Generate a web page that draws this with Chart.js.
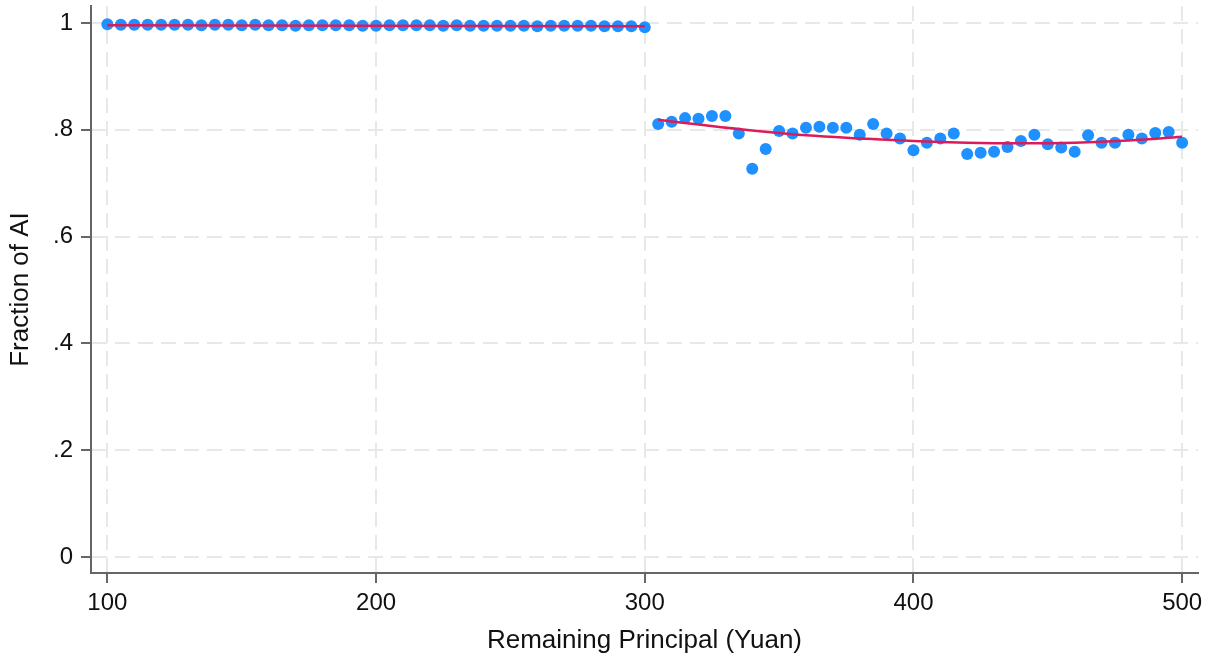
<!DOCTYPE html>
<html>
<head>
<meta charset="utf-8">
<script src="https://cdn.jsdelivr.net/npm/chart.js@4/dist/chart.umd.min.js"></script>
<style>
  html, body { margin: 0; padding: 0; background: #fff; }
  #caja { width: 1214px; height: 657px; position: relative; }
</style>
</head>
<body>
<div id="caja"><canvas id="grafico"></canvas></div>
<script>
// Datos
const xIzq = [100, 105, 110, 115, 120, 125, 130, 135, 140, 145, 150, 155, 160, 165, 170, 175, 180, 185, 190, 195,
              200, 205, 210, 215, 220, 225, 230, 235, 240, 245, 250, 255, 260, 265, 270, 275, 280, 285, 290, 295, 300];
const yIzq = [.998, .997, .997, .997, .997, .997, .997, .996, .997, .997, .996, .997, .996, .996, .995, .996, .996, .996, .996, .995,
              .995, .996, .996, .996, .996, .995, .996, .995, .995, .995, .995, .995, .994, .995, .995, .995, .995, .994, .994, .994, .992];

const xDer = [305, 310, 315, 320, 325, 330, 335, 340, 345, 350, 355, 360, 365, 370, 375, 380, 385, 390, 395, 400,
              405, 410, 415, 420, 425, 430, 435, 440, 445, 450, 455, 460, 465, 470, 475, 480, 485, 490, 495, 500];
const yDer = [.811, .815, .822, .821, .826, .826, .793, .727, .764, .798, .793, .804, .806, .804, .804, .791, .811, .793, .784, .762,
              .776, .784, .793, .755, .757, .759, .768, .779, .791, .773, .767, .759, .790, .776, .776, .791, .784, .794, .796, .776];

// Ajuste (línea roja)
const xAjusteIzq = [100, 300];
const yAjusteIzq = [.996, .994];
const xAjusteDer = [305, 320, 340, 360, 380, 400, 420, 440, 460, 480, 500];
const yAjusteDer = [.819, .810, .799, .790, .784, .779, .776, .775, .776, .780, .787];

const xTicks = [100, 200, 300, 400, 500];
const yTicks = [0, .2, .4, .6, .8, 1];
const yEtiquetas = ['0', '.2', '.4', '.6', '.8', '1'];

const azul = 'rgb(30, 144, 255)';
const rojo = 'rgb(220, 28, 88)';
const gris = '#666666';
const rejilla = '#e8e8e8';
const fuente = "'Liberation Sans', Arial, sans-serif";

const pares = (xs, ys) => xs.map((x, i) => ({ x: x, y: ys[i] }));

new Chart(document.getElementById('grafico').getContext('2d'), {
    type: 'scatter',
    data: {
        datasets: [
            { type: 'line', data: pares(xAjusteIzq, yAjusteIzq), borderColor: rojo, borderWidth: 2.5, pointRadius: 0, fill: false, order: 0 },
            { type: 'line', data: pares(xAjusteDer, yAjusteDer), borderColor: rojo, borderWidth: 2.5, pointRadius: 0, fill: false, tension: 0.4, order: 0 },
            { data: pares(xIzq, yIzq), backgroundColor: azul, borderWidth: 0, pointRadius: 6, order: 1 },
            { data: pares(xDer, yDer), backgroundColor: azul, borderWidth: 0, pointRadius: 6, order: 1 }
        ]
    },
    options: {
        responsive: true,
        maintainAspectRatio: false,
        animation: false,
        layout: { padding: { top: 5, right: 16, bottom: 0, left: 0 } },
        plugins: { legend: { display: false }, tooltip: { enabled: false } },
        scales: {
            x: {
                type: 'linear',
                min: 93.9,
                max: 505.9,
                afterBuildTicks: s => { s.ticks = xTicks.map(v => ({ value: v })); },
                afterFit: s => { s.height = 84; s.paddingLeft = 0; s.paddingRight = 0; },
                ticks: { color: '#111', font: { family: fuente, size: 24 }, padding: 6, maxRotation: 0, includeBounds: false },
                grid: { color: rejilla, lineWidth: 2, tickColor: gris, tickLength: 10, tickWidth: 2 },
                border: { display: true, color: gris, width: 2, dash: [15, 8] },
                title: { display: true, text: 'Remaining Principal (Yuan)', color: '#111', font: { family: fuente, size: 26 }, padding: { top: 0, bottom: 1 } }
            },
            y: {
                min: -0.03,
                max: 1.032,
                afterBuildTicks: s => { s.ticks = yTicks.map(v => ({ value: v })); },
                afterFit: s => { s.width = 91; s.paddingTop = 0; s.paddingBottom = 0; },
                ticks: {
                    color: '#111', font: { family: fuente, size: 24 }, padding: 8, includeBounds: false,
                    callback: (v) => yEtiquetas[yTicks.findIndex(t => Math.abs(t - v) < 1e-6)]
                },
                grid: { color: rejilla, lineWidth: 2, tickColor: gris, tickLength: 10, tickWidth: 2 },
                border: { display: true, color: gris, width: 2, dash: [15, 8] },
                title: { display: true, text: 'Fraction of AI', color: '#111', font: { family: fuente, size: 26 }, padding: { top: 5, bottom: 0 } }
            }
        }
    }
});
</script>
</body>
</html>
